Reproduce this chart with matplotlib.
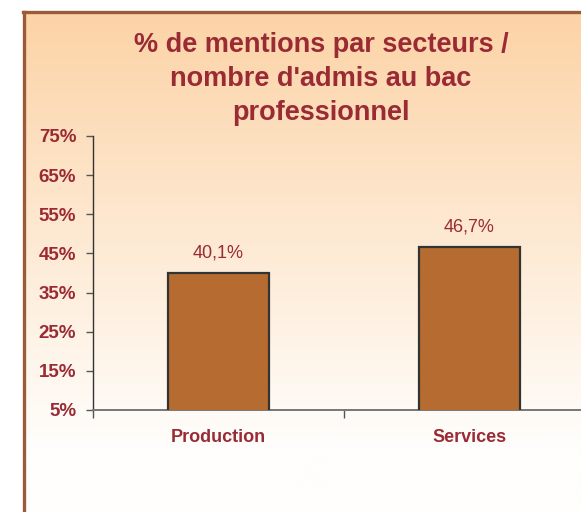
import matplotlib
matplotlib.use("Agg")
import matplotlib.pyplot as plt
import numpy as np
from matplotlib.lines import Line2D

# data
categories = ["Production", "Services"]
values = [40.1, 46.7]
labels = ["40,1%", "46,7%"]
yticks = [5, 15, 25, 35, 45, 55, 65, 75]
title_lines = ["% de mentions par secteurs /", "nombre d'admis au bac", "professionnel"]

red = "#9A2B35"
plt.rcParams['font.family'] = ['Liberation Sans', 'DejaVu Sans']

W, H = 581, 512
fig = plt.figure(figsize=(W / 100, H / 100), dpi=100)
fig.patch.set_facecolor("white")

# gradient background box
bg = fig.add_axes([24 / W, 0, 1 - 24 / W, (H - 12) / H])
grad = np.linspace(0, 1, 256).reshape(-1, 1)
top = np.array([252, 211, 166]) / 255
bot = np.array([255, 254, 252]) / 255
g = np.clip(grad * 1.15, 0, 1)
img = top + (bot - top) * g[..., None]
bg.imshow(img, aspect="auto", extent=[0, 1, 0, 1], origin="upper")
bg.set_axis_off()

# box border (left and top)
bc = "#9B5A38"
fig.add_artist(Line2D([24 / W, 24 / W], [0, (H - 12) / H], color=bc, lw=2.4, transform=fig.transFigure))
fig.add_artist(Line2D([23 / W, 1], [(H - 12) / H, (H - 12) / H], color=bc, lw=2.4, transform=fig.transFigure))

# main axes
ax = fig.add_axes([93 / W, (H - 410) / H, (595 - 93) / W, (410 - 136) / H])
ax.patch.set_alpha(0)
x = np.arange(len(categories))
ax.bar(x, values, width=0.40, bottom=0, color="#B66C30", edgecolor="#333333", linewidth=1.6, zorder=3)
ax.set_xlim(-0.5, 1.5)
ax.set_ylim(5, 75)

for xi, v, lab in zip(x, values, labels):
    ax.annotate(lab, (xi, v), xytext=(0, 14), textcoords="offset points",
                ha="center", va="center", fontsize=13, color=red)

ax.set_yticks(yticks)
ax.set_yticklabels([f"{t}%" for t in yticks], fontsize=13.5, fontweight="bold", color=red)
ax.tick_params(axis="y", direction="out", length=5, width=1, color="#555555", pad=7)

ax.set_xticks([-0.5, 0.5, 1.5])
ax.set_xticklabels([])
ax.set_xticks(x, minor=True)
ax.set_xticklabels(categories, minor=True, fontsize=13, fontweight="bold", color=red)
ax.tick_params(axis="x", which="major", direction="out", length=6, width=1, color="#555555")
ax.tick_params(axis="x", which="minor", length=0, pad=14)

for s in ["top", "right"]:
    ax.spines[s].set_visible(False)
ax.spines["left"].set_color("#333333")
ax.spines["left"].set_linewidth(1)
ax.spines["bottom"].set_color("#777777")
ax.spines["bottom"].set_linewidth(1.4)

ty = [45, 79, 113]
for line, yy in zip(title_lines, ty):
    fig.text(321 / W, 1 - yy / H, line, ha="center", va="center",
             fontsize=19.5, fontweight="bold", color=red)

fig.savefig("out.png", dpi=100)
